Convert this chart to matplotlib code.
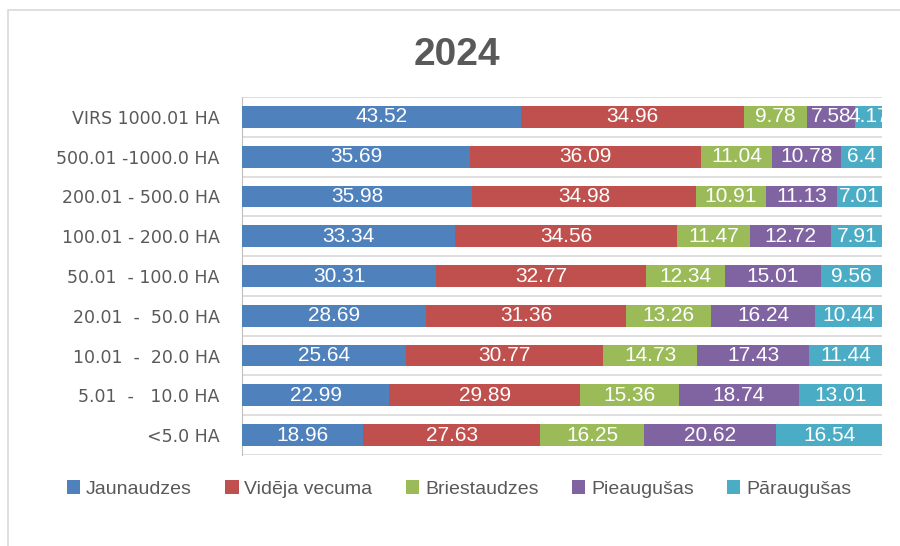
import numpy as np
import matplotlib.pyplot as plt
from matplotlib.patches import Rectangle

# categories top to bottom
categories = ["VIRS 1000.01 HA", "500.01 -1000.0 HA", "200.01 - 500.0 HA",
              "100.01 - 200.0 HA", "50.01  - 100.0 HA", "20.01  -  50.0 HA",
              "10.01  -  20.0 HA", "5.01  -   10.0 HA", "<5.0 HA"]
series = ["Jaunaudzes", "Vidēja vecuma", "Briestaudzes", "Pieaugušas", "Pāraugušas"]
jaunaudzes = [43.52, 35.69, 35.98, 33.34, 30.31, 28.69, 25.64, 22.99, 18.96]
videja = [34.96, 36.09, 34.98, 34.56, 32.77, 31.36, 30.77, 29.89, 27.63]
briest = [9.78, 11.04, 10.91, 11.47, 12.34, 13.26, 14.73, 15.36, 16.25]
pieaug = [7.58, 10.78, 11.13, 12.72, 15.01, 16.24, 17.43, 18.74, 20.62]
paraug = [4.17, 6.4, 7.01, 7.91, 9.56, 10.44, 11.44, 13.01, 16.54]
colors = ["#4F81BD", "#C0504D", "#9BBB59", "#8064A2", "#4BACC6"]

data = np.array([jaunaudzes, videja, briest, pieaug, paraug])
share = data / data.sum(axis=0) * 100   # 100% stacked

fig = plt.figure(figsize=(9, 5.46), dpi=100)
ax = fig.add_axes([242/900, 1-455/546, 640/900, 358/546])

# outer chart border
fig.patches.append(Rectangle((8/900, -0.1), 1.2, 1-10/546+0.1,
                             transform=fig.transFigure, fill=False,
                             edgecolor="#D9D9D9", linewidth=1.2))

y = np.arange(len(categories))
left = np.zeros(len(categories))
for i in range(len(series)):
    ax.barh(y, share[i], left=left, height=0.55, color=colors[i],
            label=series[i], zorder=3)
    for j in range(len(categories)):
        ax.text(left[j] + share[i][j] / 2, y[j], f"{data[i][j]:g}",
                ha="center", va="center", color="white", fontsize=15,
                family="Liberation Sans", zorder=4)
    left += share[i]

ax.set_xlim(0, 100)
ax.set_ylim(len(categories) - 0.5, -0.5)
ax.set_yticks(y)
ax.set_yticklabels(categories, fontsize=12.5, color="#595959",
                   family="DejaVu Sans")
ax.tick_params(axis="y", length=0, pad=16)
ax.set_xticks([])
for b in np.arange(-0.5, len(categories), 1):
    ax.axhline(b, color="#D9D9D9", linewidth=1.2, zorder=1)
for s in ["top", "right", "bottom"]:
    ax.spines[s].set_visible(False)
ax.spines["left"].set_color("#BFBFBF")

fig.text(457/900, 1-55/546, "2024", ha="center", va="center",
         fontsize=28, fontweight="bold", color="#595959",
         family="Liberation Sans")

fig.legend(loc="center", bbox_to_anchor=(459/900, 1-489/546), ncol=5,
           frameon=False, labelcolor="#595959",
           handlelength=0.7, handleheight=0.7, handletextpad=0.3,
           columnspacing=1.7, prop={"family": "Liberation Sans", "size": 14})

fig.savefig("out.png", dpi=100)
